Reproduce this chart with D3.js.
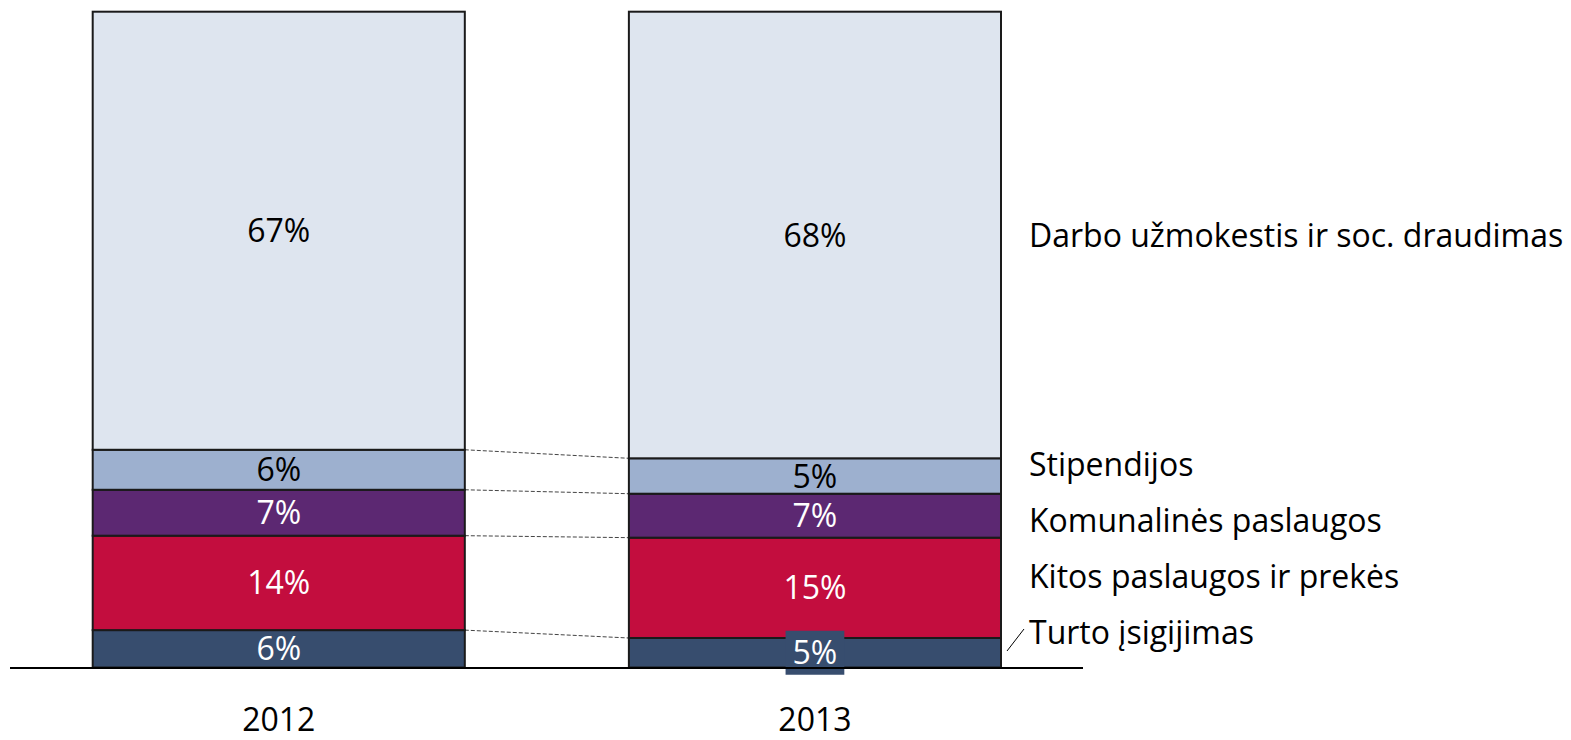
<!DOCTYPE html>
<html>
<head>
<meta charset="utf-8">
<script src="https://cdn.jsdelivr.net/npm/d3@7"></script>
<style>
  body { margin: 0; background: #fff; }
  text { font-family: 'Open Sans', sans-serif; }
</style>
</head>
<body>
<div class="canvas"></div>
<script>
// data, bottom segment first
const years = ['2012', '2013'];
const categories = ['Turto įsigijimas', 'Kitos paslaugos ir prekės', 'Komunalinės paslaugos', 'Stipendijos', 'Darbo užmokestis ir soc. draudimas'];
const values2012 = [5.7, 14.4, 7.0, 6.1, 66.8];
const values2013 = [4.5, 15.3, 6.7, 5.4, 68.1];

const colors = ['#374d6e', '#c30d3e', '#5c2872', '#9db0cf', '#dee5ef'];
const textColors = ['#fff', '#fff', '#fff', '#000', '#000'];

const width = 1571;
const height = 740;
const fontSize = 32;

const svg = d3.select('.canvas')
    .append('svg')
    .attr('width', width)
    .attr('height', height);

// build rows for d3.stack
const rows = years.map((year, i) => {
    const vals = i === 0 ? values2012 : values2013;
    const row = {year};
    categories.forEach((c, j) => row[c] = vals[j]);
    return row;
});

const series = d3.stack().keys(categories)(rows);

const x = d3.scaleBand()
    .domain(years)
    .range([92.7, 1001])
    .paddingInner(0.306)
    .paddingOuter(0);

const y = d3.scaleLinear()
    .domain([0, 100])
    .range([667.5, 11.7]);

// dashed connectors between the bars
const connectors = svg.append('g');
series.slice(0, 4).forEach(s => {
    connectors.append('line')
        .attr('x1', x('2012') + x.bandwidth())
        .attr('y1', y(s[0][1]))
        .attr('x2', x('2013'))
        .attr('y2', y(s[1][1]))
        .attr('stroke', '#444')
        .attr('stroke-width', 1)
        .attr('stroke-dasharray', '4,2');
});

// segments
const groups = svg.selectAll('g.series')
    .data(series)
    .enter()
    .append('g')
        .attr('class', 'series')
        .attr('fill', (d, i) => colors[i]);

groups.selectAll('rect')
    .data(d => d)
    .enter()
    .append('rect')
        .attr('x', d => x(d.data.year))
        .attr('y', d => y(d[1]))
        .attr('width', x.bandwidth())
        .attr('height', d => y(d[0]) - y(d[1]))
        .attr('stroke', '#1a1a1a')
        .attr('stroke-width', 2);

// value labels
series.forEach((s, i) => {
    s.forEach(d => {
        const cx = x(d.data.year) + x.bandwidth() / 2;
        const cy = (y(d[0]) + y(d[1])) / 2;
        const label = Math.round(d[1] - d[0]) + '%';
        const t = svg.append('text')
            .attr('x', cx)
            .attr('y', cy + fontSize * 0.36)
            .attr('text-anchor', 'middle')
            .attr('font-size', fontSize)
            .attr('fill', textColors[i])
            .text(label);
        // small segment in 2013: label sits on its own box
        if (i === 0 && d.data.year === '2013') {
            const w = t.node().getComputedTextLength();
            svg.insert('rect', () => t.node())
                .attr('x', cx - w / 2 - 7)
                .attr('y', cy - 22)
                .attr('width', w + 14)
                .attr('height', 44)
                .attr('fill', colors[0]);
        }
    });
});

// baseline
svg.append('line')
    .attr('x1', 10)
    .attr('x2', 1083)
    .attr('y1', y(0) + 0.5)
    .attr('y2', y(0) + 0.5)
    .attr('stroke', '#000')
    .attr('stroke-width', 2);

// year labels
svg.selectAll('text.year')
    .data(years)
    .enter()
    .append('text')
        .attr('class', 'year')
        .attr('x', d => x(d) + x.bandwidth() / 2)
        .attr('y', 731)
        .attr('text-anchor', 'middle')
        .attr('font-size', fontSize)
        .attr('fill', '#000')
        .text(d => d);

// legend labels on the right
const legendX = 1029;
const top2013 = series[4][1];
const legendY = [632.5, 576.5, 520.5, 464.5, (y(top2013[0]) + y(top2013[1])) / 2];

svg.selectAll('text.legend')
    .data(categories)
    .enter()
    .append('text')
        .attr('class', 'legend')
        .attr('x', legendX)
        .attr('y', (d, i) => legendY[i] + fontSize * 0.36)
        .attr('font-size', fontSize)
        .attr('fill', '#000')
        .text(d => d);

// leader line for the smallest segment
svg.append('line')
    .attr('x1', 1007)
    .attr('y1', 651)
    .attr('x2', 1024)
    .attr('y2', 629)
    .attr('stroke', '#000')
    .attr('stroke-width', 1);
</script>
</body>
</html>
